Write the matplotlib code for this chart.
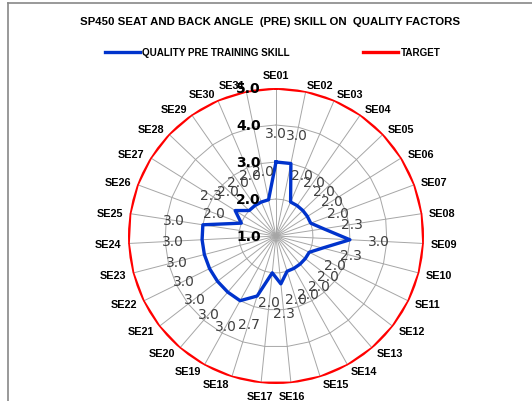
import matplotlib
matplotlib.use('Agg')
import matplotlib.pyplot as plt
from matplotlib.lines import Line2D
import numpy as np

# data
categories = ['SE%02d' % i for i in range(1, 32)]
pre_skill = [3.0, 3.0, 2.0, 2.0, 2.0, 2.0, 2.0, 2.3, 3.0, 2.3,
             2.0, 2.0, 2.0, 2.0, 2.0, 2.3, 2.0, 2.7, 3.0, 3.0,
             3.0, 3.0, 3.0, 3.0, 3.0, 2.0, 2.3, 2.0, 2.0, 2.0, 2.0]
target = [5.0] * 31
rings = [2.0, 3.0, 4.0]
tick_vals = [1.0, 2.0, 3.0, 4.0, 5.0]

W, H = 532, 402
fig = plt.figure(figsize=(W / 100, H / 100), dpi=100)

# plot area: centre and radius in pixels
cx, cy, R = 276, 237, 148
ax = fig.add_axes([(cx - R) / W, 1 - (cy + R) / H, 2 * R / W, 2 * R / H],
                  projection='polar')
ax.set_theta_zero_location('N')
ax.set_theta_direction(-1)
ax.set_ylim(1, 5)
ax.grid(False)
ax.set_xticks([])
ax.set_yticks([])
ax.spines['polar'].set_visible(False)
ax.patch.set_alpha(0)

n = len(categories)
ang = np.arange(n) * 2 * np.pi / n
ang_c = np.append(ang, ang[0])

grid_col = '#a6a6a6'
for a in ang:
    ax.plot([a, a], [1, 5], color=grid_col, lw=0.7, zorder=1)
for r in rings:
    ax.plot(ang_c, [r] * (n + 1), color=grid_col, lw=0.7, zorder=1)

l_pre, = ax.plot(ang_c, pre_skill + pre_skill[:1], color='#0033cc', lw=2.4,
                 zorder=3, label='QUALITY PRE TRAINING SKILL')
l_tgt, = ax.plot(ang_c, target + target[:1], color='#ff0000', lw=2.4,
                 zorder=3, label='TARGET')

# data labels, pushed outward
for a, v in zip(ang, pre_skill):
    ax.text(a, v + 0.78, '%.1f' % v, ha='center', va='center',
            fontsize=10, color='#404040', zorder=4)

# radial axis labels
for v in tick_vals:
    ax.annotate('%.1f' % v, xy=(0, v), xytext=(-11, 0),
                textcoords='offset points', ha='right', va='center',
                fontsize=10, fontweight='bold', color='#000000', zorder=5)

# category labels
for a, c in zip(ang, categories):
    s, co = np.sin(a), np.cos(a)
    if abs(s) < 0.15:
        ha = 'center'
        va = 'bottom' if co > 0 else 'top'
        r = 5.22
    else:
        ha = 'left' if s > 0 else 'right'
        va = 'center'
        r = 5.18
    ax.text(a, r, c, ha=ha, va=va, fontsize=7.8, fontweight='bold',
            family='Liberation Sans', color='#000000')

fig.text(0.508, 1 - 22 / H, 'SP450 SEAT AND BACK ANGLE  (PRE) SKILL ON  QUALITY FACTORS',
         ha='center', va='center', fontsize=8.2, fontweight='bold',
         family='Liberation Sans')

fig.legend(handles=[l_pre, l_tgt], loc='center left',
           bbox_to_anchor=(105 / W, 1 - 53 / H), ncol=2, frameon=False,
           prop={'family': 'Liberation Sans', 'weight': 'bold', 'size': 7.1},
           handlelength=3.5, handletextpad=0.3, columnspacing=7.4,
           borderaxespad=0, borderpad=0)

# chart area frame (left and top edges visible)
fig.add_artist(Line2D([8 / W, 8 / W], [0, 1 - 4 / H], color='#888888', lw=1.2))
fig.add_artist(Line2D([8 / W, 1], [1 - 4 / H, 1 - 4 / H], color='#888888', lw=1.2))

fig.savefig('out.png', dpi=100)
